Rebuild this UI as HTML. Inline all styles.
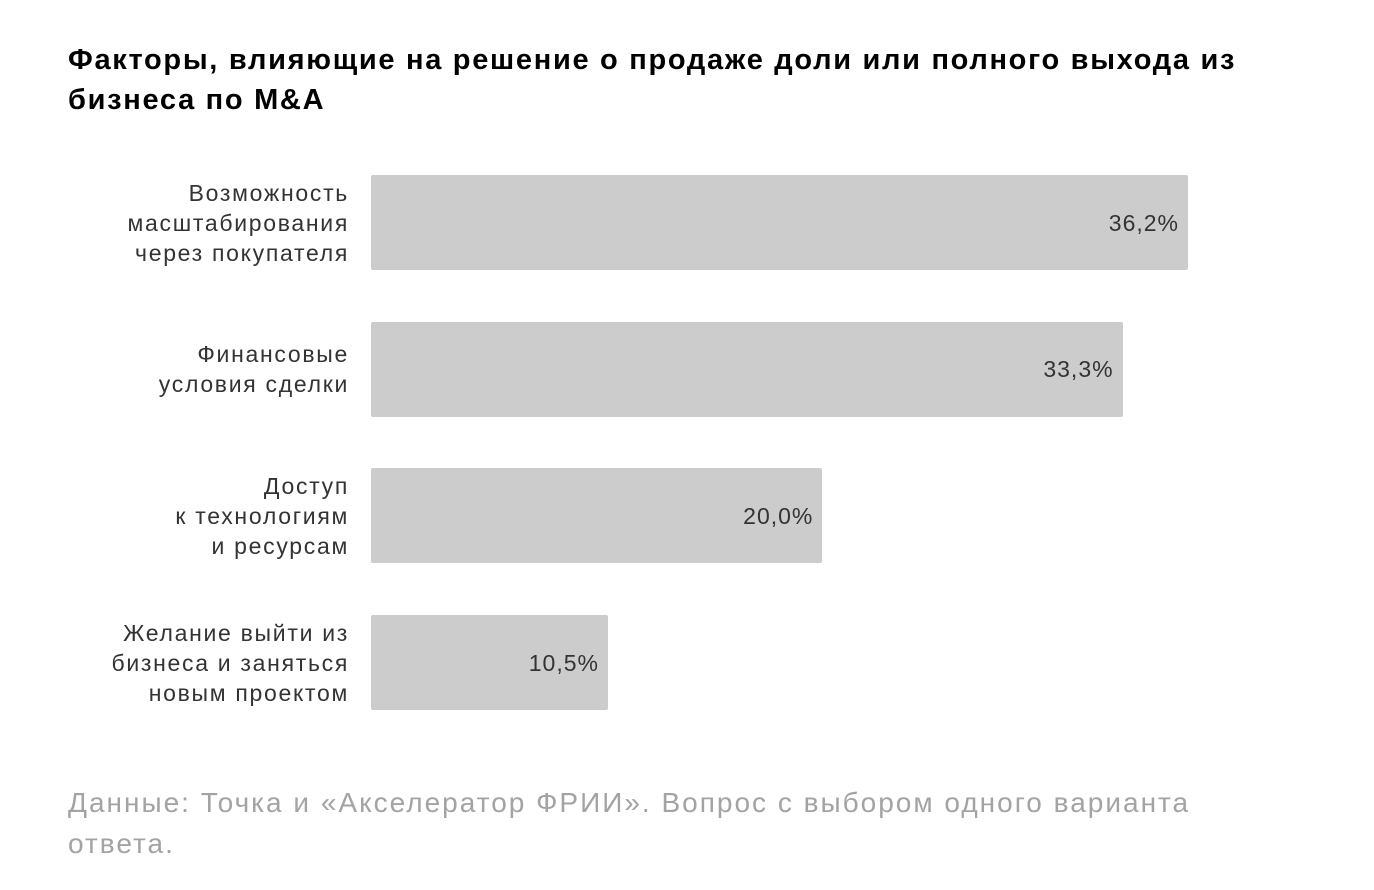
<!DOCTYPE html>
<html><head><meta charset="utf-8"><style>
body{margin:0;width:1374px;height:890px;background:#fff;font-family:"Liberation Sans","DejaVu Sans",sans-serif;position:relative;overflow:hidden}
#title{position:absolute;left:68px;top:40px;font-size:29px;letter-spacing:1.7px;font-weight:bold;line-height:40px;color:#000;width:1300px;white-space:nowrap}
#foot{position:absolute;left:68px;top:782px;font-size:28px;letter-spacing:2px;line-height:41px;color:#a3a3a3;width:1300px;white-space:nowrap}
.lbl{position:absolute;right:1025px;text-align:right;font-size:23px;letter-spacing:1.7px;line-height:30px;color:#333;white-space:nowrap}
.bar{position:absolute;left:371px;height:95px;background:#cccccc;border-radius:2px}
.val{position:absolute;font-size:23px;letter-spacing:1px;color:#333;line-height:30px;text-align:right}
</style></head><body>
<div id="title">Факторы, влияющие на решение о продаже доли или полного выхода из<br>бизнеса по M&amp;A</div>
<div id="chart"></div>
<div id="foot">Данные: Точка и «Акселератор ФРИИ». Вопрос с выбором одного варианта<br>ответа.</div>
<script>
const categories=[["Возможность","масштабирования","через покупателя"],["Финансовые","условия сделки"],["Доступ","к технологиям","и ресурсам"],["Желание выйти из","бизнеса и заняться","новым проектом"]];
const values=[36.2,33.3,20.0,10.5];
const valueLabels=["36,2%","33,3%","20,0%","10,5%"];
const x0=371, pxPer=817/36.2, yTop=175, pitch=146.7, h=95;
const xs=v=>v*pxPer;
const ys=i=>yTop+i*pitch;
const c=document.getElementById('chart');
values.forEach((v,i)=>{
  const y=ys(i);
  const b=document.createElement('div');b.className='bar';
  
  
  b.style.top=y+'px';b.style.width=xs(v)+'px';c.appendChild(b);
  const t=document.createElement('div');t.className='val';
  
  
  t.textContent=valueLabels[i];
  t.style.top=(y+h/2-15)+'px';t.style.right=(1374-(x0+xs(v))+9)+'px';c.appendChild(t);
  const l=document.createElement('div');l.className='lbl';
  
  
  l.innerHTML=categories[i].join('<br>');
  l.style.top=(y+h/2-categories[i].length*15)+'px';c.appendChild(l);
});
</script>
</body></html>
